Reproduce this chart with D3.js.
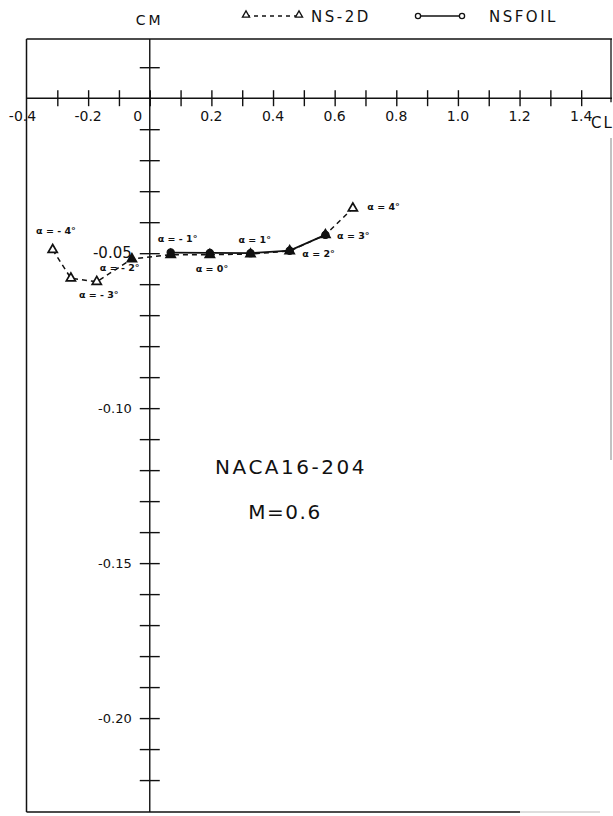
<!DOCTYPE html>
<html>
<head>
<meta charset="utf-8">
<script src="https://cdn.jsdelivr.net/npm/d3@7"></script>
<style>
  body { margin: 0; background: #fff; }
  svg text { font-family: "DejaVu Sans", sans-serif; fill: #111; }
</style>
</head>
<body>
<svg id="chart" width="613" height="816"></svg>
<script>
// NS-2D 計算結果 (虛線、三角形)
const ns2dCL = [-0.315, -0.256, -0.172, -0.058, 0.068, 0.195, 0.327, 0.454, 0.570, 0.659];
const ns2dCM = [-0.0489, -0.0581, -0.0592, -0.0519, -0.0505, -0.0505, -0.0503, -0.0493, -0.0441, -0.0355];

// NSFOIL 計算結果 (實線、圓形)
const nsfoilCL = [0.068, 0.195, 0.327, 0.454, 0.570];
const nsfoilCM = [-0.0498, -0.0499, -0.0500, -0.0492, -0.0441];

// 攻角標註文字與位置 (CL, CM)
const alphaText = ['α = - 4°', 'α = - 3°', 'α = - 2°', 'α = - 1°', 'α = 0°', 'α = 1°', 'α = 2°', 'α = 3°', 'α = 4°'];
const alphaCL = [-0.369, -0.230, -0.162, 0.026, 0.149, 0.288, 0.495, 0.608, 0.706];
const alphaCM = [-0.0438, -0.0646, -0.0558, -0.0465, -0.0560, -0.0466, -0.0512, -0.0455, -0.0362];

// 刻度
const xTicks = [-0.3, -0.2, -0.1, 0, 0.1, 0.2, 0.3, 0.4, 0.5, 0.6, 0.7, 0.8, 0.9, 1.0, 1.1, 1.2, 1.3, 1.4];
const xTickLabels = [-0.4, -0.2, 0, 0.2, 0.4, 0.6, 0.8, 1.0, 1.2, 1.4];
const yTicks = d3.range(1, -23, -1).filter(d => d !== 0).map(d => d / 100);
const yTickLabels = [-0.05, -0.10, -0.15, -0.20];

const svg = d3.select('#chart');

const x = d3.scaleLinear().domain([-0.4, 1.5]).range([26.5, 612]);
const y = d3.scaleLinear().domain([0.0191, -0.2303]).range([39, 812]);

const ink = '#111';

// 外框
svg.append('line').attr('x1', x(-0.4)).attr('x2', x(1.5)).attr('y1', y(0.0191)).attr('y2', y(0.0191))
  .attr('stroke', ink).attr('stroke-width', 1.3);
svg.append('line').attr('x1', x(-0.4)).attr('x2', x(-0.4)).attr('y1', y(0.0191)).attr('y2', y(-0.2303))
  .attr('stroke', ink).attr('stroke-width', 1.5);
svg.append('line').attr('x1', x(-0.4)).attr('x2', 520).attr('y1', y(-0.2303)).attr('y2', y(-0.2303))
  .attr('stroke', ink).attr('stroke-width', 1.5);
svg.append('line').attr('x1', 520).attr('x2', 600).attr('y1', y(-0.2303)).attr('y2', y(-0.2303))
  .attr('stroke', '#bbb').attr('stroke-width', 1.2);
// 右邊框 (掃描時較淡、中斷)
svg.append('line').attr('x1', 611).attr('x2', 611).attr('y1', y(0.0191)).attr('y2', y(0) + 4)
  .attr('stroke', ink).attr('stroke-width', 1.3);
svg.append('line').attr('x1', 611).attr('x2', 611).attr('y1', 138).attr('y2', 460)
  .attr('stroke', '#999').attr('stroke-width', 1.2);

// X 軸 (CL)，刻度線穿過軸線
const xAxis = svg.append('g').attr('transform', `translate(0,${y(0)})`)
  .call(d3.axisBottom(x).tickValues(xTicks).tickSize(8).tickFormat(''));
xAxis.select('.domain').remove();
xAxis.selectAll('.tick line').attr('y1', -8).attr('stroke', ink).attr('stroke-width', 1.4);
svg.append('line').attr('x1', x(-0.4)).attr('x2', x(1.5)).attr('y1', y(0)).attr('y2', y(0))
  .attr('stroke', ink).attr('stroke-width', 1.4);

svg.append('g').selectAll('text').data(xTickLabels).join('text')
  .attr('x', d => d === 0 ? x(0) - 12 : (d === -0.4 ? x(d) - 4 : x(d)))
  .attr('y', y(0) + 23)
  .attr('text-anchor', 'middle')
  .attr('font-size', 14)
  .text(d => d === 0 ? '0' : d3.format('.1f')(d).replace('−', '-'));

// Y 軸 (CM)
const yAxis = svg.append('g').attr('transform', `translate(${x(0)},0)`)
  .call(d3.axisLeft(y).tickValues(yTicks).tickSize(10).tickFormat(''));
yAxis.select('.domain').remove();
yAxis.selectAll('.tick line').attr('x1', 10).attr('stroke', ink).attr('stroke-width', 1.4);
svg.append('line').attr('x1', x(0)).attr('x2', x(0)).attr('y1', y(0.0191)).attr('y2', y(-0.2303))
  .attr('stroke', ink).attr('stroke-width', 1.4);

svg.append('g').selectAll('text').data(yTickLabels).join('text')
  .attr('x', x(0) - 18)
  .attr('y', d => y(d) + 5)
  .attr('text-anchor', 'end')
  .attr('font-size', d => d === -0.05 ? 15 : 13)
  .text(d => d3.format('.2f')(d).replace('−', '-'));

// 軸標題
svg.append('text').attr('x', x(0)).attr('y', 25).attr('text-anchor', 'middle')
  .attr('font-size', 14).attr('letter-spacing', 3).text('CM');
svg.append('text').attr('x', 591).attr('y', 128)
  .attr('font-size', 15).attr('letter-spacing', 2).text('CL');

// 資料線
const ns2dPts = ns2dCL.map((d, i) => [d, ns2dCM[i]]);
const nsfoilPts = nsfoilCL.map((d, i) => [d, nsfoilCM[i]]);
const line = d3.line().x(d => x(d[0])).y(d => y(d[1]));

svg.append('path').datum(nsfoilPts).attr('d', line)
  .attr('fill', 'none').attr('stroke', ink).attr('stroke-width', 1.8);
svg.append('path').datum(ns2dPts).attr('d', line)
  .attr('fill', 'none').attr('stroke', ink).attr('stroke-width', 1.5).attr('stroke-dasharray', '5,4');

const tri = d3.symbol().type(d3.symbolTriangle).size(36);
svg.append('g').selectAll('path').data(ns2dPts).join('path')
  .attr('d', tri)
  .attr('transform', d => `translate(${x(d[0])},${y(d[1])})`)
  .attr('fill', (d, i) => i >= 3 && i <= 8 ? ink : '#fff')
  .attr('stroke', ink).attr('stroke-width', 1.7);
svg.append('g').selectAll('circle').data(nsfoilPts).join('circle')
  .attr('cx', d => x(d[0])).attr('cy', d => y(d[1])).attr('r', 3.6)
  .attr('fill', ink).attr('stroke', ink).attr('stroke-width', 1.2);

// 攻角標註
svg.append('g').selectAll('text').data(alphaText).join('text')
  .attr('x', (d, i) => x(alphaCL[i]))
  .attr('y', (d, i) => y(alphaCM[i]))
  .attr('font-size', 9.5)
  .attr('font-weight', 'bold')
  .text(d => d);

// 圖例
const legend = svg.append('g');
legend.append('line').attr('x1', 246).attr('x2', 299).attr('y1', 16).attr('y2', 16)
  .attr('stroke', ink).attr('stroke-width', 1.3).attr('stroke-dasharray', '4,4');
legend.selectAll('path.lg').data([246, 299]).join('path').attr('class', 'lg')
  .attr('d', d3.symbol().type(d3.symbolTriangle).size(22))
  .attr('transform', d => `translate(${d},15)`)
  .attr('fill', '#fff').attr('stroke', ink).attr('stroke-width', 1.3);
legend.append('text').attr('x', 311).attr('y', 22).attr('font-size', 15).attr('letter-spacing', 2.5).text('NS-2D');

legend.append('line').attr('x1', 418).attr('x2', 462).attr('y1', 16).attr('y2', 16)
  .attr('stroke', ink).attr('stroke-width', 1.3);
legend.selectAll('circle.lg').data([418, 462]).join('circle').attr('class', 'lg')
  .attr('cx', d => d).attr('cy', 16).attr('r', 2.6)
  .attr('fill', '#fff').attr('stroke', ink).attr('stroke-width', 1.3);
legend.append('text').attr('x', 489).attr('y', 22).attr('font-size', 15).attr('letter-spacing', 2.5).text('NSFOIL');

// 翼型與馬赫數
svg.append('text').attr('x', 291).attr('y', 474).attr('text-anchor', 'middle')
  .attr('font-size', 20).attr('letter-spacing', 2.5).text('NACA16-204');
svg.append('text').attr('x', 285).attr('y', 519).attr('text-anchor', 'middle')
  .attr('font-size', 20).attr('letter-spacing', 1.5).text('M=0.6');
</script>
</body>
</html>
